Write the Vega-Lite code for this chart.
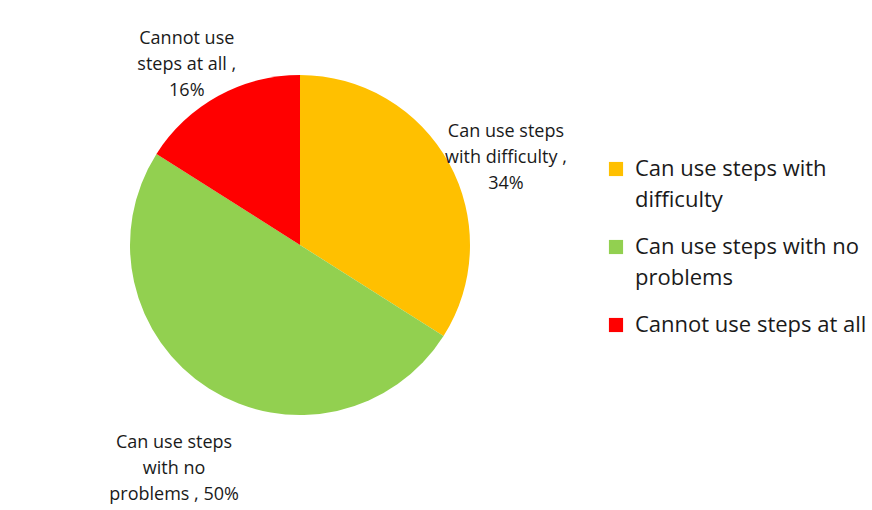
{
  "$schema": "https://vega.github.io/schema/vega-lite/v6.json",
  "width": 872,
  "height": 510,
  "autosize": {"type": "fit", "contains": "padding"},
  "background": "white",
  "padding": {"left": 5, "right": 5, "top": 5, "bottom": 20},
  "view": {"stroke": null},
  "config": {"style": {"guide-label": {"lineHeight": 31}}},
  "data": {
    "values": [
      {"category": "Can use steps with difficulty", "value": 34, "order": 1, "label": "Can use steps|with difficulty ,|34%"},
      {"category": "Can use steps with no problems", "value": 50, "order": 2, "label": "Can use steps|with no|problems , 50%"},
      {"category": "Cannot use steps at all", "value": 16, "order": 3, "label": "Cannot use|steps at all ,|16%"}
    ]
  },
  "encoding": {
    "theta": {"field": "value", "type": "quantitative", "stack": true},
    "order": {"field": "order", "type": "quantitative"},
    "color": {
      "field": "category",
      "type": "nominal",
      "scale": {
        "domain": ["Can use steps with difficulty", "Can use steps with no problems", "Cannot use steps at all"],
        "range": ["#FFC000", "#92D050", "#FF0000"]
      },
      "legend": {
        "title": " ",
        "titleFontSize": 10,
        "titlePadding": 143,
        "orient": "right",
        "offset": 10,
        "symbolType": "square",
        "symbolSize": 200,
        "symbolStrokeWidth": 0,
        "labelFont": "Open Sans",
        "labelFontSize": 22,
        "labelColor": "#1a1a1a",
        "labelLimit": 320,
        "labelOffset": 8,
        "rowPadding": 25,
        "labelExpr": "datum.label == 'Can use steps with difficulty' ? ['Can use steps with', 'difficulty'] : datum.label == 'Can use steps with no problems' ? ['Can use steps with no', 'problems'] : datum.label"
      }
    }
  },
  "layer": [
    {"mark": {"type": "arc", "outerRadius": 170, "stroke": null}},
    {
      "mark": {"type": "text", "radius": 235, "font": "Open Sans", "fontSize": 18, "lineBreak": "|", "lineHeight": 26, "fill": "#1a1a1a"},
      "encoding": {"text": {"field": "label", "type": "nominal"}, "color": {"value": "#1a1a1a"}}
    }
  ]
}
